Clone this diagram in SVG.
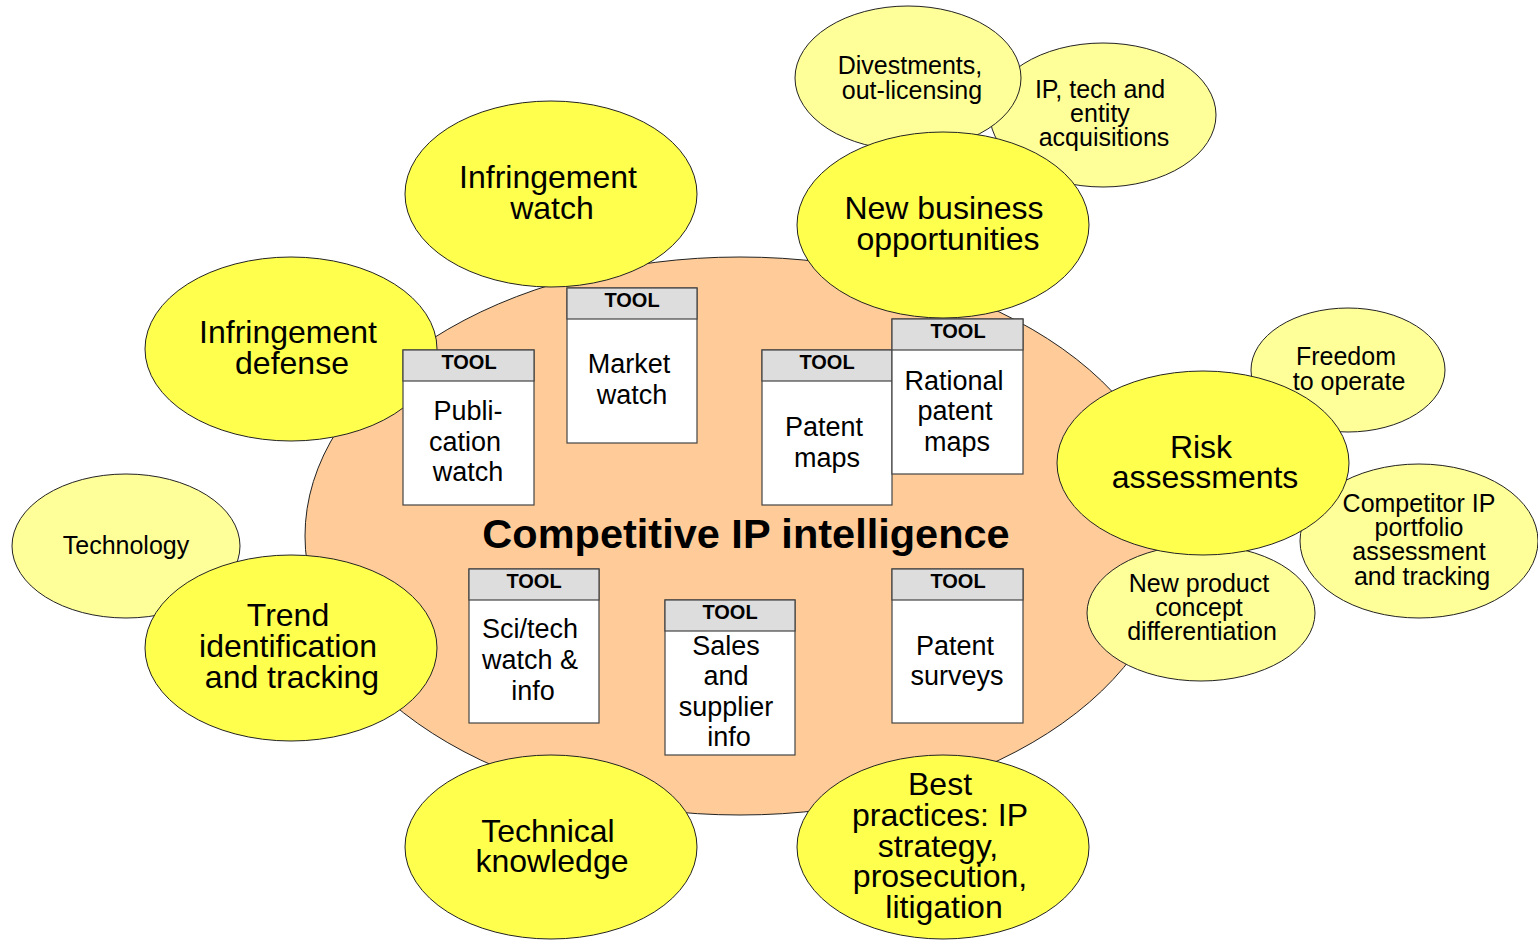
<svg xmlns="http://www.w3.org/2000/svg" width="1538" height="944" viewBox="0 0 1538 944">
<style>
  .main { fill: #FFCC99; stroke: #222; stroke-width: 1; }
  .big { fill: #FFFF4D; stroke: #222; stroke-width: 1; }
  .small { fill: #FFFF99; stroke: #222; stroke-width: 1; }
  .box { fill: #FFFFFF; stroke: #444; stroke-width: 1.2; }
  .hdr { fill: #DDDDDD; stroke: #444; stroke-width: 1.2; }
  text { font-family: "Liberation Sans", Arial, sans-serif; fill: #000; text-anchor: middle; }
  .t-big { font-size: 32px; }
  .t-small { font-size: 25px; }
  .t-tool { font-size: 20px; font-weight: bold; }
  .t-body { font-size: 27px; }
  .t-title { font-size: 41.5px; font-weight: bold; }
</style>
<rect width="1538" height="944" fill="#FFFFFF"/>
<g id="connectors"></g>

<g id="core">
  <ellipse class="main" cx="740" cy="536" rx="435" ry="279"/>
  <text class="t-title" x="746" y="548">Competitive IP intelligence</text>
</g>

<g id="technology">
  <ellipse class="small" cx="126" cy="546" rx="114" ry="72"/>
  <text class="t-small" x="126" y="554">Technology</text>
</g>
<g id="ip-acquisitions">
  <ellipse class="small" cx="1103" cy="115" rx="113" ry="72"/>
  <text class="t-small"><tspan x="1100" y="98">IP, tech and</tspan><tspan x="1100" y="122">entity</tspan><tspan x="1104" y="146">acquisitions</tspan></text>
</g>
<g id="divestments">
  <ellipse class="small" cx="908" cy="78" rx="113" ry="72"/>
  <text class="t-small"><tspan x="910" y="74">Divestments,</tspan><tspan x="912" y="99">out-licensing</tspan></text>
</g>
<g id="freedom">
  <ellipse class="small" cx="1348" cy="370" rx="97" ry="62"/>
  <text class="t-small"><tspan x="1346" y="365">Freedom</tspan><tspan x="1349" y="390">to operate</tspan></text>
</g>
<g id="new-product">
  <ellipse class="small" cx="1201" cy="613" rx="114" ry="68"/>
  <text class="t-small"><tspan x="1199" y="592">New product</tspan><tspan x="1199" y="616">concept</tspan><tspan x="1202" y="640">differentiation</tspan></text>
</g>
<g id="competitor">
  <ellipse class="small" cx="1419" cy="541" rx="119" ry="77"/>
  <text class="t-small"><tspan x="1419" y="512">Competitor IP</tspan><tspan x="1419" y="536">portfolio</tspan><tspan x="1419" y="560">assessment</tspan><tspan x="1422" y="585">and tracking</tspan></text>
</g>

<g id="infringement-watch">
  <ellipse class="big" cx="551" cy="194" rx="146" ry="93"/>
  <text class="t-big"><tspan x="548" y="188">Infringement</tspan><tspan x="552" y="219">watch</tspan></text>
</g>
<g id="infringement-defense">
  <ellipse class="big" cx="291" cy="349" rx="146" ry="92"/>
  <text class="t-big"><tspan x="288" y="343">Infringement</tspan><tspan x="292" y="374">defense</tspan></text>
</g>
<g id="new-business">
  <ellipse class="big" cx="943" cy="225" rx="146" ry="93"/>
  <text class="t-big"><tspan x="944" y="219">New business</tspan><tspan x="948" y="250">opportunities</tspan></text>
</g>
<g id="risk">
  <ellipse class="big" cx="1203" cy="463" rx="146" ry="92"/>
  <text class="t-big"><tspan x="1201" y="458">Risk</tspan><tspan x="1205" y="488">assessments</tspan></text>
</g>
<g id="trend">
  <ellipse class="big" cx="291" cy="648" rx="146" ry="93"/>
  <text class="t-big"><tspan x="288" y="626">Trend</tspan><tspan x="288" y="657">identification</tspan><tspan x="292" y="688">and tracking</tspan></text>
</g>
<g id="technical-knowledge">
  <ellipse class="big" cx="551" cy="847" rx="146" ry="92"/>
  <text class="t-big"><tspan x="548" y="842">Technical</tspan><tspan x="552" y="872">knowledge</tspan></text>
</g>
<g id="best-practices">
  <ellipse class="big" cx="943" cy="847" rx="146" ry="92"/>
  <text class="t-big"><tspan x="940" y="795">Best</tspan><tspan x="940" y="826">practices: IP</tspan><tspan x="938" y="857">strategy,</tspan><tspan x="940" y="887">prosecution,</tspan><tspan x="944" y="918">litigation</tspan></text>
</g>

<g id="tool-publication">
  <rect class="box" x="403" y="350" width="131" height="155"/>
  <rect class="hdr" x="403" y="350" width="131" height="31"/>
  <text class="t-tool" x="469" y="369">TOOL</text>
  <text class="t-body"><tspan x="468" y="420">Publi-</tspan><tspan x="465" y="451">cation</tspan><tspan x="468" y="481">watch</tspan></text>
</g>
<g id="tool-market">
  <rect class="box" x="567" y="288" width="130" height="155"/>
  <rect class="hdr" x="567" y="288" width="130" height="31"/>
  <text class="t-tool" x="632" y="307">TOOL</text>
  <text class="t-body"><tspan x="629" y="373">Market</tspan><tspan x="632" y="404">watch</tspan></text>
</g>
<g id="tool-patent-maps">
  <rect class="box" x="762" y="350" width="130" height="155"/>
  <rect class="hdr" x="762" y="350" width="130" height="31"/>
  <text class="t-tool" x="827" y="369">TOOL</text>
  <text class="t-body"><tspan x="824" y="436">Patent</tspan><tspan x="827" y="467">maps</tspan></text>
</g>
<g id="tool-rational">
  <rect class="box" x="892" y="319" width="131" height="155"/>
  <rect class="hdr" x="892" y="319" width="131" height="31"/>
  <text class="t-tool" x="958" y="338">TOOL</text>
  <text class="t-body"><tspan x="954" y="390">Rational</tspan><tspan x="955" y="420">patent</tspan><tspan x="957" y="451">maps</tspan></text>
</g>
<g id="tool-scitech">
  <rect class="box" x="469" y="569" width="130" height="154"/>
  <rect class="hdr" x="469" y="569" width="130" height="31"/>
  <text class="t-tool" x="534" y="588">TOOL</text>
  <text class="t-body"><tspan x="530" y="638">Sci/tech</tspan><tspan x="530" y="669">watch &amp;</tspan><tspan x="533" y="700">info</tspan></text>
</g>
<g id="tool-sales">
  <rect class="box" x="665" y="600" width="130" height="155"/>
  <rect class="hdr" x="665" y="600" width="130" height="31"/>
  <text class="t-tool" x="730" y="619">TOOL</text>
  <text class="t-body"><tspan x="726" y="655">Sales</tspan><tspan x="726" y="685">and</tspan><tspan x="726" y="716">supplier</tspan><tspan x="729" y="746">info</tspan></text>
</g>
<g id="tool-surveys">
  <rect class="box" x="892" y="569" width="131" height="154"/>
  <rect class="hdr" x="892" y="569" width="131" height="31"/>
  <text class="t-tool" x="958" y="588">TOOL</text>
  <text class="t-body"><tspan x="955" y="655">Patent</tspan><tspan x="957" y="685">surveys</tspan></text>
</g>
</svg>
